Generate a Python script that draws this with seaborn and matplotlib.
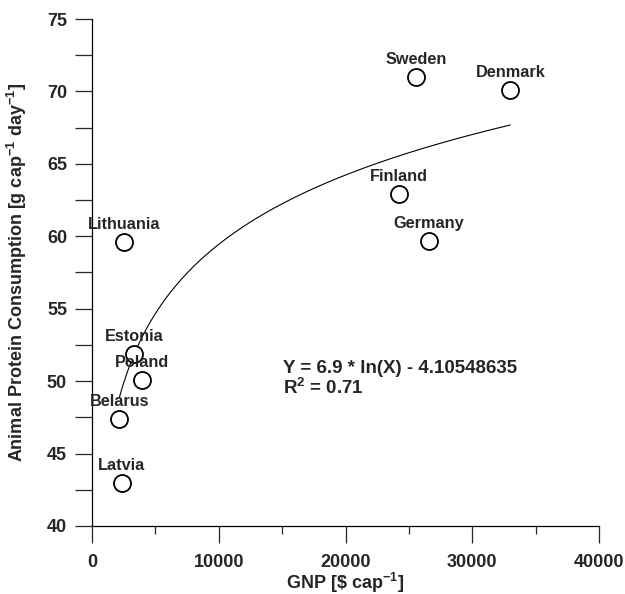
"""
animal protein consumption vs GNP with logarithmic fit
"""

import matplotlib.pyplot as plt
import numpy as np
import pandas as pd
import seaborn as sns

# data
countries = ["Sweden", "Denmark", "Finland", "Germany", "Lithuania",
             "Estonia", "Poland", "Belarus", "Latvia"]
gnp = [25600, 33000, 24200, 26600, 2500, 3300, 3950, 2150, 2350]
protein = [71.0, 70.1, 62.9, 59.7, 59.6, 51.9, 50.1, 47.4, 43.0]

# fit coefficients shown on the chart
fit_slope = 6.9
fit_intercept = -4.10548635

df = pd.DataFrame({"Country": countries, "GNP": gnp, "Protein": protein})

sns.set_style("ticks")
plt.rcParams["font.family"] = ["Liberation Sans", "DejaVu Sans"]
plt.rcParams["font.weight"] = "bold"
plt.rcParams["mathtext.fontset"] = "custom"
plt.rcParams["mathtext.bf"] = "Liberation Sans:bold"
plt.rcParams["mathtext.rm"] = "Liberation Sans:bold"
plt.rcParams["mathtext.default"] = "bf"

fig = plt.figure(figsize=(6.25, 5.94), dpi=100)
ax = fig.add_axes([0.1472, 0.1145, 0.8112, 0.8535])

# fitted log curve over the data range
fit_x = np.linspace(min(gnp), max(gnp), 200)
fit_df = pd.DataFrame({"GNP": fit_x, "Fit": fit_slope * np.log(fit_x) + fit_intercept})
sns.lineplot(data=fit_df, x="GNP", y="Fit", color="black", linewidth=0.8, ax=ax)

sns.scatterplot(data=df, x="GNP", y="Protein", s=150, facecolor="white",
                edgecolor="black", linewidth=1.3, ax=ax, zorder=3)

for _, row in df.iterrows():
    ax.annotate(row["Country"], (row["GNP"], row["Protein"]),
                xytext=(0, 12.5), textcoords="offset points",
                ha="center", va="center", fontsize=11.7, fontweight="bold")

ax.text(15070, 50.9, "Y = 6.9 * ln(X) - 4.10548635", fontsize=13.5,
        fontweight="bold", ha="left", va="center")
ax.text(15070, 49.55, r"R$^2$ = 0.71", fontsize=13.5,
        fontweight="bold", ha="left", va="center")

ax.set_xlim(0, 40000)
ax.set_ylim(40, 75)
ax.set_xticks(range(0, 40001, 10000))
ax.set_xticks(range(5000, 40000, 10000), minor=True)
ax.set_yticks(range(40, 76, 5))
ax.set_yticks(np.arange(42.5, 75, 5), minor=True)

ax.tick_params(axis="x", which="major", length=12, width=0.9, pad=8,
               labelsize=13, direction="out")
ax.tick_params(axis="x", which="minor", length=6, width=0.9, direction="out")
ax.tick_params(axis="y", which="both", length=12, width=0.9, pad=6,
               labelsize=13, direction="out")
for lab in ax.get_xticklabels() + ax.get_yticklabels():
    lab.set_fontweight("bold")

sns.despine(ax=ax)
for side in ["left", "bottom"]:
    ax.spines[side].set_linewidth(0.9)
    ax.spines[side].set_color("black")

ax.set_xlabel(r"GNP [\$ cap$^{-1}$]", fontsize=13, fontweight="bold")
ax.set_ylabel(r"Animal Protein Consumption [g cap$^{-1}$ day$^{-1}$]",
              fontsize=13, fontweight="bold", va="center")
ax.xaxis.set_label_coords(0.5, -0.088)
ax.yaxis.set_label_coords(-0.148, 0.5)

fig.savefig("out.png", dpi=100)
